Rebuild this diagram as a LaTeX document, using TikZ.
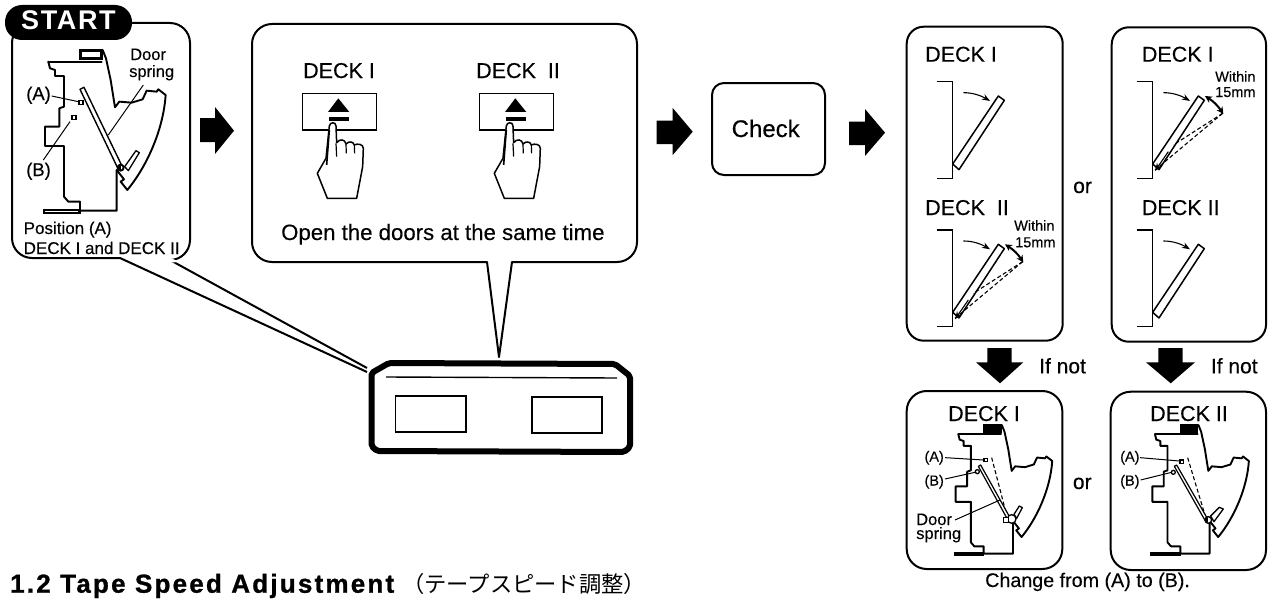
\documentclass[tikz,border=0pt]{standalone}
\usepackage{fontspec}
\setmainfont[FakeBold=0.25]{Liberation Sans}
\newfontfamily\titlefont[LetterSpace=8.5,BoldFeatures={FakeBold=1}]{Liberation Sans}
\newfontfamily\startfont[LetterSpace=6]{Liberation Sans}
\newfontfamily\cjkfont{Noto Sans CJK JP}
\usetikzlibrary{arrows.meta}
\tikzset{
  panel/.style={draw=black,fill=white,line width=2pt,line join=round},
  txt/.style={inner sep=0pt,anchor=base west,text=black},
  fa/.style={font=\fontsize{21.5}{21.5}\selectfont},
  fb/.style={font=\fontsize{14.5}{14.5}\selectfont},
  fc/.style={font=\fontsize{16.5}{16.5}\selectfont},
  fd/.style={font=\fontsize{21}{21}\selectfont},
  blockarrow/.style={fill=black,draw=none},
  mech/.style={line width=1.9pt,line join=round,line cap=round},
  thin leader/.style={line width=1pt},
  bracketline/.style={line width=1.6pt},
  sweep/.style={line width=1.1pt,-{Stealth[length=8pt,width=6pt]}},
  wide/.style={line width=2pt,{Stealth[length=7pt,width=7pt]}-{Stealth[length=7pt,width=7pt]}},
  ghost/.style={line width=1.1pt,dash pattern=on 4pt off 2.5pt},
  lever/.style={draw=black,fill=white,line width=1.3pt,line join=round},
}
% chassis and door, in the coordinates of the START drawing (3x pixels)
\newcommand{\doorbody}[4]{%
\begin{scope}[shift={(#1,#2)},x=#3pt,y=-#3pt]
  \draw[mech] (145,185) -- (305,185);
  \draw[mech] (145,185) -- (150,205) -- (165,210) -- (165,228) -- (192,228) -- (192,320) -- (178,325)
     -- (178,380) -- (135,380) -- (135,438) -- (192,438) -- (192,590) -- (205,605) -- (240,605) -- (240,632) -- (350,632) -- (350,510);
  \draw[mech] (308,150) -- (318,175) -- (332,240) -- (345,322) -- (358,305) -- (395,308) -- (428,298) -- (440,272) -- (470,275) -- (475,268) -- (497,285)
     .. controls (490,390) and (440,500) .. (382,570) -- (362,545) -- (372,538) -- (350,510);
  \fill[black] (238,148) rectangle (308,180);
  \fill[#4] (245,155) rectangle (300,172);
  \fill[black] (128,628) rectangle (242,642);
  \fill[#4] (136,632) rectangle (234,637);
\end{scope}}
% deck sketch for the check panels (3x pixels relative to offset)
\newcommand{\deckbase}[2]{%
\begin{scope}[shift={(890,20)},x=.3333pt,y=-.3333pt,shift={(#1,#2)}]
  \draw[bracketline] (140,185) -- (187,185) -- (187,475) -- (140,475);
  \draw[line width=1.5pt,fill=white,line join=round] (188,432) -- (207,449) -- (343,241) -- (325,228) -- cycle;
  \draw[sweep] (220,218) .. controls (250,218) and (275,228) .. (300,243);
\end{scope}}
\newcommand{\deckghost}[2]{%
\begin{scope}[shift={(890,20)},x=.3333pt,y=-.3333pt,shift={(#1,#2)}]
  \draw[ghost] (398,280) -- (195,450);
  \draw[ghost] (398,280) -- (250,375);
  \draw[line width=1.1pt,-{Stealth[length=8pt,width=6pt]}] (235,395) -- (195,453);
  \draw[wide] (345,228) to[bend left=12] (400,282);
\end{scope}}
\newcommand{\handfig}[1]{%
\begin{scope}[shift={(240,20)},x=.3333pt,y=-.3333pt,shift={(#1,0)}]
  \draw[line width=1.6pt,fill=white] (187,220) rectangle (410,330);
  \fill[black] (295,235) -- (328,276) -- (264,276) -- cycle;
  \fill[black] (268,290) rectangle (326,302);
  \draw[line width=1.5pt,fill=white,line join=round] (268,318) .. controls (270,305) and (288,305) .. (288,318)
     -- (290,368) .. controls (300,355) and (315,358) .. (318,372)
     .. controls (328,362) and (340,365) .. (343,375)
     .. controls (352,370) and (370,372) .. (370,385)
     -- (368,440) -- (350,535) -- (262,535) -- (232,460) -- (258,415) -- cycle;
  \draw[line width=1.6pt] (268,330) -- (260,435);
  \draw[line width=1.2pt] (288,370) -- (290,410);
  \draw[line width=1.2pt] (318,372) -- (319,400);
  \draw[line width=1.2pt] (343,375) -- (344,400);
\end{scope}}
\begin{document}
\begin{tikzpicture}[x=1pt,y=-1pt]
\useasboundingbox (0,0) rectangle (1273,602);

% START panel
\draw[panel] (120,258) [rounded corners=20pt] -- (12,258) -- (12,23) -- (190,23) -- (190,260) [sharp corners] -- (170,260) -- (367,368);
\draw[line width=2pt] (120,258) -- (367,372);
\fill[white] (122,255) -- (168,257) -- (180,262) -- (140,264) -- cycle;
\fill[black,rounded corners=17pt] (5,5) rectangle (132,40);
\node[txt,text=white,font=\startfont\bfseries\fontsize{27}{27}\selectfont] (startlabel) at (21,29.5) {START};

\doorbody{0}{0}{.3333}{white}
\begin{scope}[x=.3333pt,y=-.3333pt]
  \draw[lever] (374,500) -- (408,452) -- (418,458) -- (385,512) -- cycle;
  \draw[line width=1.4pt,fill=white,line join=round] (240,268) -- (252,262) -- (366,498) -- (354,506) -- cycle;
  \draw[mech,fill=white] (362,503) circle[radius=9];
  \fill[black] (353,498) rectangle (362,510);
  \draw[line width=1.4pt,fill=white] (237,302) rectangle (249,314);
  \draw[line width=1.4pt,fill=white] (216,347) rectangle (228,359);
  \draw[thin leader] (155,288) -- (235,305);
  \draw[thin leader] (130,480) -- (210,365);
  \draw[thin leader] (430,255) -- (325,405);
\end{scope}
\node[txt,fc] (s1) at (130,60) {Door};
\node[txt,fc] (s2) at (129,77) {spring};
\node[txt,font=\fontsize{18.5}{18.5}\selectfont] (s3) at (26,100) {(A)};
\node[txt,font=\fontsize{18.5}{18.5}\selectfont] (s4) at (26,176) {(B)};
\node[txt,font=\fontsize{17}{17}\selectfont] (s5) at (23.5,234) {Position (A)};
\node[txt,font=\fontsize{17}{17}\selectfont] (s6) at (23.5,254) {DECK I and DECK II};

% Arrows row
\fill[blockarrow] (200,118) -- (215,118) -- (215,107) -- (234,130.7) -- (215,154) -- (215,142) -- (200,142) -- cycle;
\fill[blockarrow] (656.7,120.7) -- (672.7,120.7) -- (672.7,108) -- (692.7,131.7) -- (672.7,155) -- (672.7,144) -- (656.7,144) -- cycle;
\fill[blockarrow] (849,121.7) -- (865,121.7) -- (865,109) -- (885,132.7) -- (865,156) -- (865,145) -- (849,145) -- cycle;

% Doors panel
\draw[panel] (487,262) [rounded corners=20pt] -- (252,262) -- (252,24) -- (637,24) -- (637,262) [sharp corners] -- (512,262) -- (499,357) -- cycle;
\node[txt,fa] (d1) at (303,78) {DECK I};
\node[txt,fa] (d2) at (476,78) {DECK\ \ II};
\handfig{0}
\handfig{531}
\node[txt,font=\fontsize{22.2}{22.2}\selectfont] (d3) at (281,240) {Open the doors at the same time};

% Device
\draw[line width=6pt,fill=white,line join=round,rounded corners=2pt] (371.5,373) -- (389,363) -- (615,364) -- (630,376) -- (630,447) -- (624,452) -- (377,451) -- (371.5,446) -- cycle;
\draw[line width=1.4pt] (386,377) -- (617,378);
\draw[line width=1.5pt] (395.5,396) rectangle (466,432);
\draw[line width=1.5pt] (532,397) rectangle (602,433);

% Check
\draw[panel,rounded corners=12pt] (712,83) rectangle (825,175);
\node[txt,font=\fontsize{24}{24}\selectfont] (c1) at (731.5,137) {Check};

% Check panels
\draw[panel,rounded corners=17pt] (906.7,26.7) rectangle (1062.7,340.7);
\draw[panel,rounded corners=17pt] (1111.7,27.3) rectangle (1266,341.7);
\node[txt,fa] (p1) at (925,61.7) {DECK I};
\node[txt,fa] (p2) at (925,215) {DECK\ \ II};
\node[txt,fa] (p3) at (1141.7,61.7) {DECK I};
\node[txt,fa] (p4) at (1141.7,215) {DECK II};
\node[txt,fd] (or1) at (1073,193) {or};
\deckbase{0}{0}
\deckbase{0}{445}
\deckghost{0}{445}
\deckbase{600}{0}
\deckghost{600}{0}
\deckbase{600}{445}
\node[txt,fb] (w1) at (1014,230.7) {Within};
\node[txt,fb] (w2) at (1015,247.3) {15mm};
\node[txt,fb] (w3) at (1215,81.7) {Within};
\node[txt,fb] (w4) at (1215,97) {15mm};

% Down arrows
\fill[blockarrow] (987.3,348) -- (1011.7,348) -- (1011.7,362.3) -- (1023.3,362.3) -- (1000,383.3) -- (976,362.3) -- (987.3,362.3) -- cycle;
\fill[blockarrow] (1158.3,348) -- (1182.7,348) -- (1182.7,362.3) -- (1195,362.3) -- (1170.7,383.3) -- (1146,362.3) -- (1158.3,362.3) -- cycle;
\node[txt,fd] (n1) at (1039,373.3) {If not};
\node[txt,fd] (n2) at (1210.7,373.3) {If not};

% Bottom panels
\draw[panel,rounded corners=20pt] (906.7,391) rectangle (1062.3,569);
\draw[panel,rounded corners=20pt] (1110.7,391.7) rectangle (1266,570);
\node[txt,fa] (b1) at (948,421) {DECK I};
\node[txt,fa] (b2) at (1150,421) {DECK II};
\node[txt,fd] (or2) at (1072.7,489) {or};
\doorbody{919.67}{385}{.2667}{black}
\doorbody{1116.3}{385}{.2667}{black}
\begin{scope}[shift={(890,345)},x=.3333pt,y=-.3333pt]
  % left
  \draw[lever] (372,508) -- (388,483) -- (397,488) -- (380,520) -- cycle;
  \draw[line width=1.1pt,fill=white] (282,340) rectangle (292,350);
  \draw[ghost] (305,338) -- (350,510);
  \draw[line width=1.2pt,fill=white,line join=round] (265,364) -- (272,360) -- (360,518) -- (352,522) -- cycle;
  \draw[line width=1.3pt,fill=white] (262,380) circle[radius=6];
  \draw[line width=1.3pt,fill=white] (365,522) circle[radius=13];
  \draw[line width=1.2pt,fill=white] (340,518) rectangle (355,532);
  \draw[thin leader] (165,338) -- (280,345);
  \draw[thin leader] (165,402) -- (255,382);
  \draw[thin leader] (195,525) -- (330,465);
  % right
  \draw[lever] (962,513) -- (988,487) -- (1000,492) -- (972,530) -- cycle;
  \draw[line width=1.1pt,fill=white] (870,345) rectangle (880,355);
  \draw[ghost] (893,338) -- (945,510);
  \draw[line width=1.2pt,fill=white,line join=round] (853,364) -- (860,360) -- (953,522) -- (945,526) -- cycle;
  \draw[line width=1.3pt,fill=white] (850,382) circle[radius=6];
  \draw[line width=1.4pt,fill=white] (955,525) circle[radius=10];
  \fill[black] (946,518) rectangle (955,532);
  \draw[thin leader] (750,338) -- (868,348);
  \draw[thin leader] (752,405) -- (845,382);
\end{scope}
\node[txt,fb] (l1) at (924.3,461.5) {(A)};
\node[txt,fb] (l2) at (924.3,485.5) {(B)};
\node[txt,fc] (l3) at (916,525) {Door};
\node[txt,fc] (l4) at (916,539) {spring};
\node[txt,fb] (l5) at (1120,461.5) {(A)};
\node[txt,fb] (l6) at (1120,485.5) {(B)};
\node[txt,font=\fontsize{19.7}{19.7}\selectfont] (ch) at (985,587) {Change from (A) to (B).};

% Title
\node[txt,font=\titlefont\bfseries\fontsize{26}{26}\selectfont] (title) at (10,592.7) {1.2 Tape Speed Adjustment};
\node[txt,font=\cjkfont\fontsize{22.3}{22.3}\selectfont] (titlej) at (402,592) {（テープスピード調整）};
\end{tikzpicture}
\end{document}
